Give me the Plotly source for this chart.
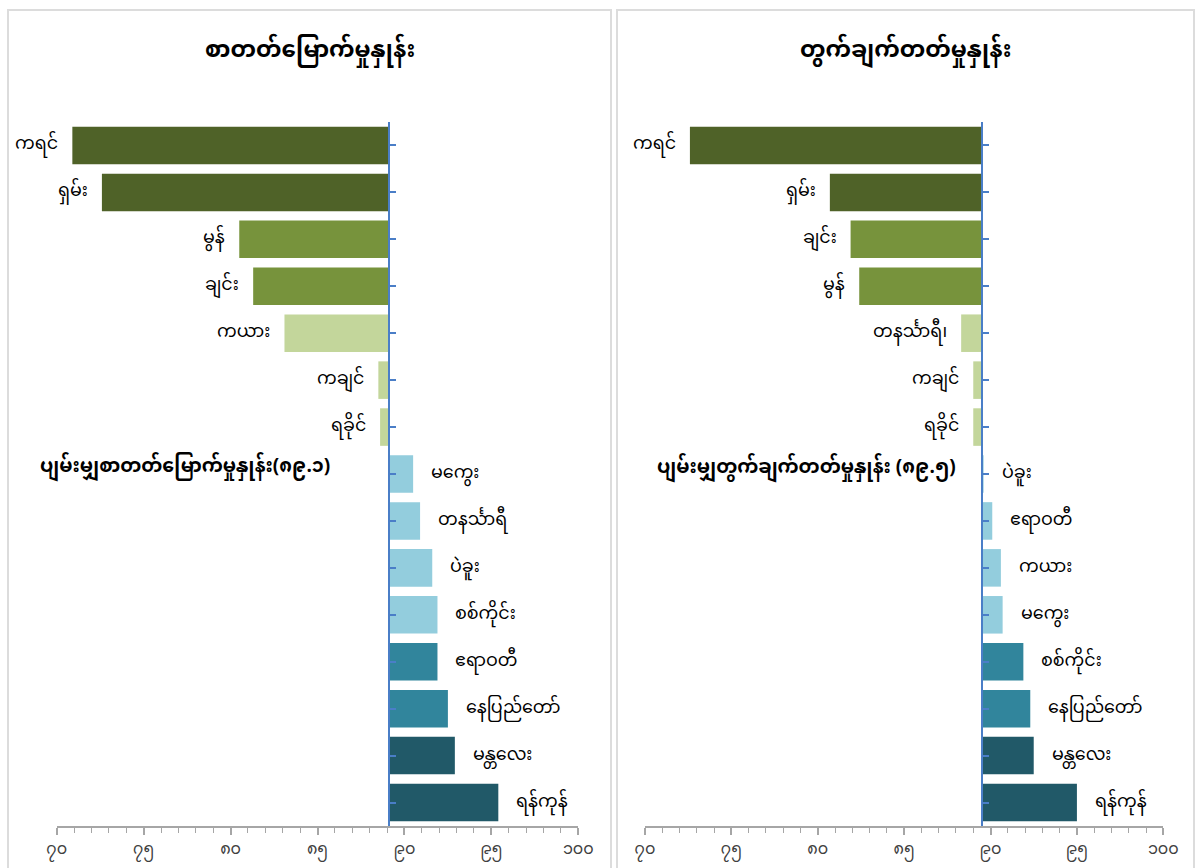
import plotly.graph_objects as go

# ---------------- data ----------------
lit_regions = ["ကရင်", "ရှမ်း", "မွန်", "ချင်း", "ကယား", "ကချင်", "ရခိုင်",
               "မကွေး", "တနင်္သာရီ", "ပဲခူး", "စစ်ကိုင်း", "ဧရာဝတီ",
               "နေပြည်တော်", "မန္တလေး", "ရန်ကုန်"]
lit_values = [70.9, 72.6, 80.5, 81.3, 83.1, 88.5, 88.6,
              90.5, 90.9, 91.6, 91.9, 91.9, 92.5, 92.9, 95.4]
lit_avg = 89.1

num_regions = ["ကရင်", "ရှမ်း", "ချင်း", "မွန်", "တနင်္သာရီ၊", "ကချင်", "ရခိုင်",
               "ပဲခူး", "ဧရာဝတီ", "ကယား", "မကွေး", "စစ်ကိုင်း",
               "နေပြည်တော်", "မန္တလေး", "ရန်ကုန်"]
num_values = [72.6, 80.7, 81.9, 82.4, 88.3, 89.0, 89.0,
              89.6, 90.1, 90.6, 90.7, 91.9, 92.3, 92.5, 95.0]
num_avg = 89.5

lit_title = "စာတတ်မြောက်မှုနှုန်း"
num_title = "တွက်ချက်တတ်မှုနှုန်း"
lit_avg_label = "ပျမ်းမျှစာတတ်မြောက်မှုနှုန်း"
num_avg_label = "ပျမ်းမျှတွက်ချက်တတ်မှုနှုန်း "

tick_values = [70, 75, 80, 85, 90, 95, 100]
tick_labels = ["၇၀", "၇၅", "၈၀", "၈၅", "၉၀", "၉၅", "၁၀၀"]

# color groups (top to bottom)
c_dkgreen, c_green, c_ltgreen = "#4F6228", "#77933C", "#C3D69B"
c_ltblue, c_teal, c_dkteal = "#93CDDD", "#31859C", "#215968"
lit_colors = [c_dkgreen] * 2 + [c_green] * 2 + [c_ltgreen] * 3 + [c_ltblue] * 4 + [c_teal] * 2 + [c_dkteal] * 2
num_colors = [c_dkgreen] * 2 + [c_green] * 2 + [c_ltgreen] * 3 + [c_ltblue] * 4 + [c_teal] * 2 + [c_dkteal] * 2

# ---------------- layout geometry ----------------
W, H = 1195, 868
FONT = "Noto Sans Myanmar, Padauk, Myanmar Text, Noto Sans, sans-serif"
XMIN, XMAX = 70, 100
dom1 = [56.7 / W, 578.3 / W]
dom2 = [645.0 / W, 1163.3 / W]
ydom = [1 - 826.0 / H, 1 - 122.0 / H]


def mm_digits(s):
    return s.translate(str.maketrans("0123456789", "၀၁၂၃၄၅၆၇၈၉"))


def axis_pos(dom, avg):
    return dom[0] + (avg - XMIN) / (XMAX - XMIN) * (dom[1] - dom[0])


fig = go.Figure()
fig.add_trace(go.Bar(y=lit_regions, x=[v - lit_avg for v in lit_values], base=lit_avg,
                     orientation="h", marker=dict(color=lit_colors, line=dict(width=0)),
                     xaxis="x", yaxis="y", showlegend=False, hoverinfo="skip"))
fig.add_trace(go.Bar(y=num_regions, x=[v - num_avg for v in num_values], base=num_avg,
                     orientation="h", marker=dict(color=num_colors, line=dict(width=0)),
                     xaxis="x2", yaxis="y2", showlegend=False, hoverinfo="skip"))

annotations = []
for regs, vals, avg, xr, yr in [(lit_regions, lit_values, lit_avg, "x", "y"),
                                (num_regions, num_values, num_avg, "x2", "y2")]:
    for r, v in zip(regs, vals):
        left = v < avg
        annotations.append(dict(x=v, y=r, xref=xr, yref=yr, text=r, showarrow=False,
                                xanchor="right" if left else "left",
                                xshift=-12 if left else 16,
                                font=dict(size=17.5, color="#000000", family=FONT)))

xaxis_common = dict(range=[XMIN, XMAX], tickvals=tick_values, ticktext=tick_labels,
                    showgrid=False, zeroline=False, showline=True, linecolor="#A6A6A6",
                    linewidth=1.5, ticks="outside", ticklen=7, tickcolor="#A6A6A6",
                    tickwidth=1.5, automargin=False,
                    minor=dict(dtick=1, ticks="outside", ticklen=5, tickcolor="#A6A6A6", tickwidth=1),
                    tickfont=dict(size=16, color="#404040", family=FONT), fixedrange=True)
yaxis_common = dict(type="category", autorange="reversed", domain=ydom, showgrid=False,
                    zeroline=False, showline=True, linecolor="#4A7EC7", linewidth=2,
                    ticks="inside", ticklen=6, tickcolor="#4A7EC7", tickwidth=1.5,
                    showticklabels=False, anchor="free", automargin=False, fixedrange=True)

# titles
annotations.append(dict(x=(8 + 611) / 2 / W, y=1 - 52 / H, xref="paper", yref="paper",
                        xanchor="center", yanchor="middle",
                        text="<b>" + lit_title + "</b>", showarrow=False,
                        font=dict(size=23, color="#000000", family=FONT)))
annotations.append(dict(x=(617 + 1194) / 2 / W, y=1 - 52 / H, xref="paper", yref="paper",
                        xanchor="center", yanchor="middle",
                        text="<b>" + num_title + "</b>", showarrow=False,
                        font=dict(size=23, color="#000000", family=FONT)))
# average labels
annotations.append(dict(x=332 / W, y=1 - 467 / H, xref="paper", yref="paper", xanchor="right",
                        yanchor="middle",
                        text="<b>" + lit_avg_label + "(" + mm_digits(f"{lit_avg:.1f}") + ")</b>",
                        showarrow=False, font=dict(size=19, color="#000000", family=FONT)))
annotations.append(dict(x=958 / W, y=1 - 469 / H, xref="paper", yref="paper", xanchor="right",
                        yanchor="middle",
                        text="<b>" + num_avg_label + "(" + mm_digits(f"{num_avg:.1f}") + ")</b>",
                        showarrow=False, font=dict(size=19, color="#000000", family=FONT)))

shapes = [
    dict(type="rect", xref="paper", yref="paper", x0=8 / W, x1=611 / W, y0=-0.05, y1=1 - 10 / H,
         line=dict(color="#DCDCDC", width=2), fillcolor="rgba(0,0,0,0)", layer="below"),
    dict(type="rect", xref="paper", yref="paper", x0=617 / W, x1=1194 / W, y0=-0.05, y1=1 - 10 / H,
         line=dict(color="#DCDCDC", width=2), fillcolor="rgba(0,0,0,0)", layer="below"),
]

fig.update_layout(
    template="none",
    width=W, height=H, margin=dict(l=0, r=0, t=0, b=0, autoexpand=False),
    paper_bgcolor="white", plot_bgcolor="white", bargap=0.2,
    font=dict(family=FONT),
    xaxis=dict(domain=dom1, anchor="y", **xaxis_common),
    xaxis2=dict(domain=dom2, anchor="y2", **xaxis_common),
    yaxis=dict(position=axis_pos(dom1, lit_avg), **yaxis_common),
    yaxis2=dict(position=axis_pos(dom2, num_avg), **yaxis_common),
    annotations=annotations, shapes=shapes,
)

fig.write_html("out.html", config={"displayModeBar": False},
               post_script="document.body.style.margin='0';document.body.style.overflow='hidden';")
